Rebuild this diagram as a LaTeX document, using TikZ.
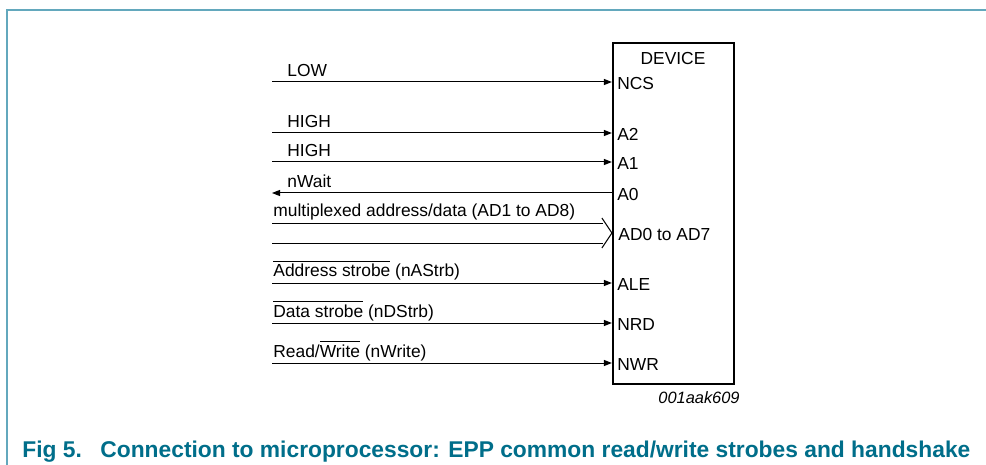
\documentclass[tikz,border=0pt]{standalone}
\usepackage{fontspec}
\setmainfont{Liberation Sans}
\usetikzlibrary{arrows.meta,positioning,calc}
\definecolor{framecol}{RGB}{99,168,189}
\definecolor{capcol}{RGB}{0,110,138}
\newcommand{\sigfont}{\fontsize{8.7}{10}\selectfont}
\newcommand{\capfont}{\fontsize{11.4}{13}\selectfont\bfseries}
\newcommand{\ovl}[1]{$\overline{\mbox{#1}}$}
\tikzset{
  devbox/.style={draw, line width=1.1pt, minimum width=60.5pt,
    minimum height=170.5pt, inner sep=0pt},
  pinlbl/.style={anchor=west, inner sep=0pt, xshift=2.5pt, yshift=-0.7pt,
    font=\sigfont},
  siglbl/.style={anchor=base west, inner sep=0pt, font=\sigfont},
  sig/.style={line width=0.5pt},
  arr/.style={sig, -{Triangle[length=4pt,width=3pt]}},
  larr/.style={sig, {Triangle[length=4pt,width=3pt]}-},
}

\begin{document}
\begin{tikzpicture}[x=0.5pt, y=-0.5pt]
  \useasboundingbox (0,0) rectangle (986,465);
  % frame
  \draw[framecol, line width=1pt] (7,465) -- (7,10) -- (986,10);

  % device
  \node[devbox] (dev) at (673.5,213.5) {};
  \node[font=\sigfont, inner sep=0pt] (devname) at (673,59) {DEVICE};

  % signal start points
  \coordinate (lo) at (272,82);
  \coordinate (hia) at (272,133);
  \coordinate (hib) at (272,162);
  \coordinate (wait) at (272,193);
  \coordinate (busa) at (272,223);
  \coordinate (busb) at (272,243);
  \coordinate (as) at (272,283);
  \coordinate (ds) at (272,323);
  \coordinate (rw) at (272,363);

  % pins
  \node[pinlbl] (ncs) at (dev.west |- lo) {NCS};
  \node[pinlbl] (ptwo) at (dev.west |- hia) {A2};
  \node[pinlbl] (pone) at (dev.west |- hib) {A1};
  \node[pinlbl] (pzero) at (dev.west |- wait) {A0};
  \node[pinlbl] (adpin) at (613,233) {AD0 to AD7};
  \node[pinlbl] (ale) at (dev.west |- as) {ALE};
  \node[pinlbl] (nrd) at (dev.west |- ds) {NRD};
  \node[pinlbl] (nwr) at (dev.west |- rw) {NWR};

  % connectors
  \draw[arr] (lo) -- (lo -| dev.west);
  \draw[arr] (hia) -- (hia -| dev.west);
  \draw[arr] (hib) -- (hib -| dev.west);
  \draw[larr] (wait) -- (wait -| dev.west);
  \draw[arr] (as) -- (as -| dev.west);
  \draw[arr] (ds) -- (ds -| dev.west);
  \draw[arr] (rw) -- (rw -| dev.west);

  % bus
  \coordinate (bustip) at (dev.west |- 0,233);
  \draw[sig] (busa) -- ++(331,0);
  \draw[sig] (busb) -- ++(331,0);
  \draw[sig] ($(bustip)+(-10,-15)$) -- (bustip) -- ($(bustip)+(-10,15)$);

  % signal labels
  \node[siglbl] (lolbl) at ($(lo)+(15,-5.5)$) {LOW};
  \node[siglbl] (hialbl) at ($(hia)+(15,-5.5)$) {HIGH};
  \node[siglbl] (hiblbl) at ($(hib)+(15,-5.5)$) {HIGH};
  \node[siglbl] (waitlbl) at ($(wait)+(15,-5.5)$) {nWait};
  \node[siglbl] (buslbl) at ($(busa)+(1,-6)$) {multiplexed address/data (AD1 to AD8)};
  \node[siglbl] (aslbl) at ($(as)+(1,-6)$) {\ovl{Address strobe} (nAStrb)};
  \node[siglbl] (dslbl) at ($(ds)+(1,-6)$) {\ovl{Data strobe} (nDStrb)};
  \node[siglbl] (rwlbl) at ($(rw)+(1,-6)$) {Read/\ovl{Write} (nWrite)};

  % figure id and caption
  \node[anchor=base east, inner sep=0pt, font=\fontsize{8.2}{10}\selectfont\itshape]
    (docid) at (740,403) {001aak609};
  \node[anchor=base west, inner sep=0pt, font=\capfont, text=capcol]
    (fig) at (22,457.5) {Fig 5.};
  \node[anchor=base west, inner sep=0pt, font=\capfont, text=capcol]
    (cap) at (100,457.5) {Connection to microprocessor: EPP common read/write strobes and handshake};
\end{tikzpicture}
\end{document}
